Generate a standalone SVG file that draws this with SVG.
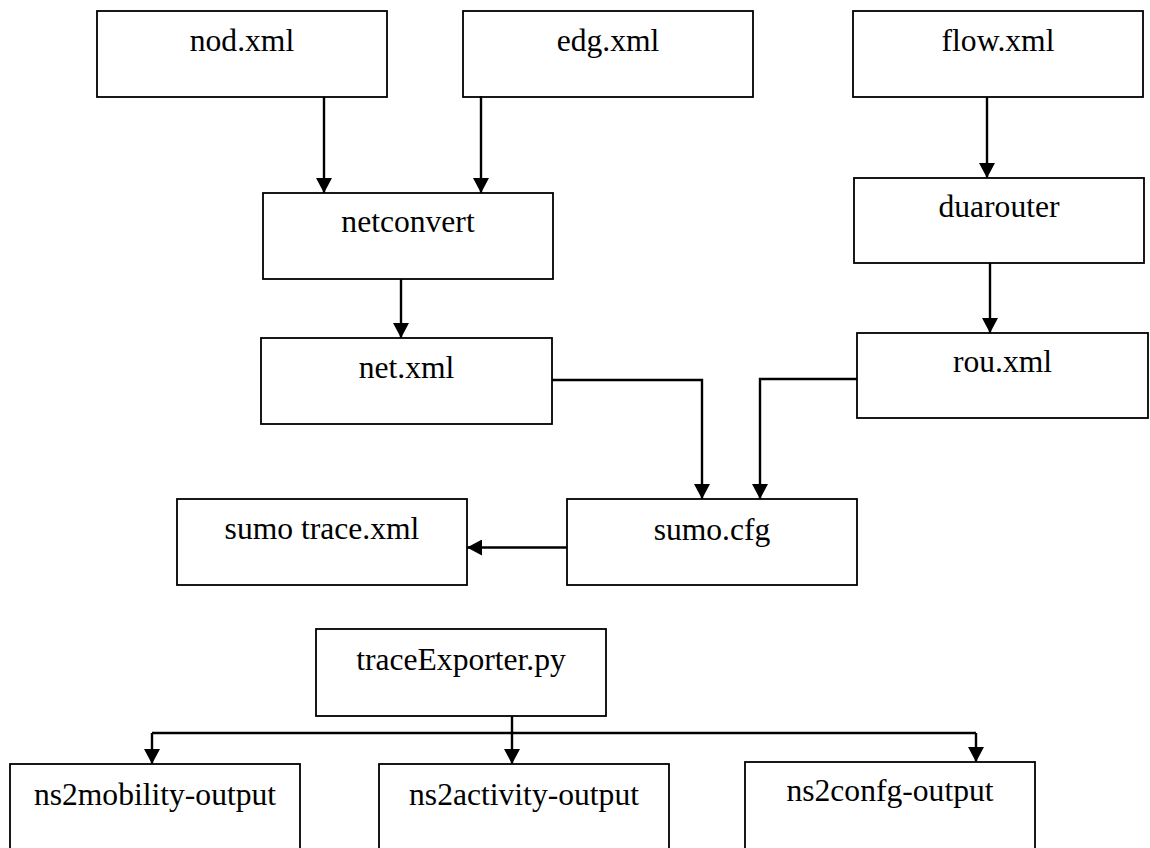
<svg xmlns="http://www.w3.org/2000/svg" width="1150" height="848" viewBox="0 0 1150 848">
<style>
.box{fill:#fff;stroke:#000;stroke-width:1.8}
.lbl{font-family:"Liberation Serif","Times New Roman",serif;font-size:31.6px;fill:#000;text-anchor:middle}
.cn{fill:none;stroke:#000;stroke-width:2.4}
.ar{marker-end:url(#ah)}
</style>
<defs>
<marker id="ah" markerUnits="userSpaceOnUse" markerWidth="15" markerHeight="16" refX="15" refY="8" orient="auto">
<path d="M0,0 L15,8 L0,16 z" fill="#000"/>
</marker>
</defs>
<rect width="1150" height="848" fill="#fff"/>
<g id="nod"><rect class="box" x="97" y="11" width="290" height="86"/><text class="lbl" x="242" y="51">nod.xml</text></g>
<g id="edg"><rect class="box" x="463" y="11" width="290" height="86"/><text class="lbl" x="608" y="51">edg.xml</text></g>
<g id="flow"><rect class="box" x="853" y="11" width="290" height="86"/><text class="lbl" x="998" y="51">flow.xml</text></g>
<g id="netconvert"><rect class="box" x="263" y="193" width="290" height="86"/><text class="lbl" x="408" y="232">netconvert</text></g>
<g id="duarouter"><rect class="box" x="854" y="178" width="290" height="85"/><text class="lbl" x="999" y="217">duarouter</text></g>
<g id="net"><rect class="box" x="261" y="338" width="291" height="86"/><text class="lbl" x="406.5" y="378">net.xml</text></g>
<g id="rou"><rect class="box" x="857" y="333" width="291" height="85"/><text class="lbl" x="1002.5" y="372">rou.xml</text></g>
<g id="sumocfg"><rect class="box" x="567" y="499" width="290" height="86"/><text class="lbl" x="712" y="540">sumo.cfg</text></g>
<g id="sumotrace"><rect class="box" x="177" y="499" width="290" height="86"/><text class="lbl" x="322" y="539">sumo trace.xml</text></g>
<g id="traceExporter"><rect class="box" x="316" y="629" width="290" height="87"/><text class="lbl" x="461" y="670">traceExporter.py</text></g>
<g id="ns2mobility"><rect class="box" x="10" y="764" width="290" height="92"/><text class="lbl" x="155" y="805">ns2mobility-output</text></g>
<g id="ns2activity"><rect class="box" x="379" y="764" width="290" height="92"/><text class="lbl" x="524" y="805">ns2activity-output</text></g>
<g id="ns2confg"><rect class="box" x="745" y="762" width="290" height="94"/><text class="lbl" x="890" y="801">ns2confg-output</text></g>
<g id="connectors">
<path class="cn ar" d="M324,97 V193"/>
<path class="cn ar" d="M481,96 V193"/>
<path class="cn ar" d="M401,279 V338"/>
<path class="cn ar" d="M987,97 V178"/>
<path class="cn ar" d="M990,263 V333"/>
<path class="cn ar" d="M552,380 H702 V499"/>
<path class="cn ar" d="M857,379 H760 V499"/>
<path class="cn ar" d="M567,547.5 H467"/>
<path class="cn" d="M512,716 V733 M152,733 H976"/>
<path class="cn ar" d="M152,733 V764"/>
<path class="cn ar" d="M512,733 V764"/>
<path class="cn ar" d="M976,733 V762"/>
</g>
</svg>
